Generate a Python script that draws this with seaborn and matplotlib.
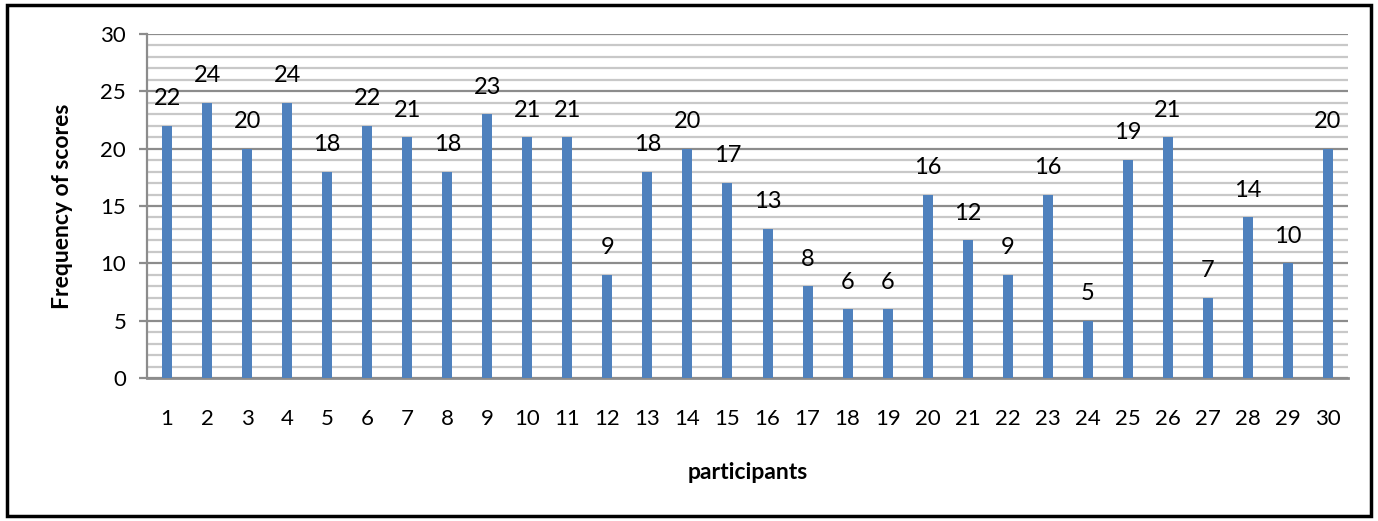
import matplotlib
matplotlib.use("Agg")
import matplotlib.pyplot as plt
import seaborn as sns
import pandas as pd
from matplotlib.patches import Rectangle
from matplotlib.ticker import MultipleLocator

participants = [str(i) for i in range(1, 31)]
scores = [22, 24, 20, 24, 18, 22, 21, 18, 23, 21,
          21, 9, 18, 20, 17, 13, 8, 6, 6, 16,
          12, 9, 16, 5, 19, 21, 7, 14, 10, 20]

df = pd.DataFrame({"participants": participants, "scores": scores})

sns.set_theme(style="white")
plt.rcParams["font.family"] = ["Lato", "DejaVu Sans"]
plt.rcParams["text.color"] = "black"
plt.rcParams["xtick.color"] = "black"
plt.rcParams["ytick.color"] = "black"
plt.rcParams["axes.labelcolor"] = "black"

fig = plt.figure(figsize=(13.78, 5.21), dpi=100)
ax = fig.add_axes([0.1067, 0.2745, 0.8715, 0.6602])

sns.barplot(data=df, x="participants", y="scores", color="#4F81BD",
            saturation=1, width=0.25, linewidth=0, ax=ax, zorder=3)

ax.set_ylim(0, 30)
ax.yaxis.set_major_locator(MultipleLocator(5))
ax.yaxis.set_minor_locator(MultipleLocator(1))
ax.grid(axis="y", which="minor", color="#c8c8c8", linewidth=1.6, zorder=0)
ax.grid(axis="y", which="major", color="#8c8c8c", linewidth=1.6, zorder=0)
ax.set_axisbelow(True)

for s in ["top", "right"]:
    ax.spines[s].set_visible(False)
ax.spines["left"].set_color("#8c8c8c")
ax.spines["left"].set_linewidth(1.6)
ax.spines["bottom"].set_color("#8c8c8c")
ax.spines["bottom"].set_linewidth(2)

ax.tick_params(axis="y", which="major", length=6, width=1.6, color="#8c8c8c",
               labelcolor="black", labelsize=16, pad=9, left=True)
ax.tick_params(axis="y", which="minor", length=0)
ax.tick_params(axis="x", length=0, labelsize=16, pad=22, labelcolor="black")

for c in ax.containers:
    ax.bar_label(c, fontsize=17, padding=12)

ax.set_xlabel("participants", fontsize=16.5, fontweight="bold", labelpad=24)
ax.set_ylabel("Frequency of scores", fontsize=16.5, fontweight="bold", labelpad=20)

fig.patches.append(Rectangle((0.005, 0.01), 0.99, 0.98, transform=fig.transFigure,
                             fill=False, edgecolor="black", linewidth=2.5))

fig.savefig("out.png", dpi=100)
